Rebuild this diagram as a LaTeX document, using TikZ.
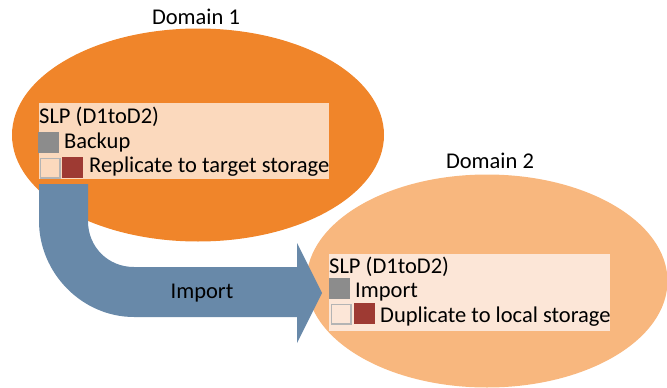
\documentclass[tikz,border=0pt]{standalone}
\usepackage{fontspec}
\setmainfont{Carlito}
\usetikzlibrary{shapes.geometric}
\definecolor{domainone}{HTML}{F0852A}
\definecolor{domaintwo}{HTML}{F8B77E}
\definecolor{slpone}{HTML}{FBD9BD}
\definecolor{slptwo}{HTML}{FCE6D7}
\definecolor{opgray}{HTML}{8C8C8C}
\definecolor{opred}{HTML}{9E3A33}
\definecolor{importblue}{HTML}{6889A9}
\definecolor{swatchline}{HTML}{B4B4B4}
\begin{document}
\begin{tikzpicture}[x=1pt,y=-1pt,font=\fontsize{22.5}{27}\selectfont,
  domainshape/.style={ellipse,inner sep=0pt},
  slpbox/.style={rectangle,inner sep=0pt,anchor=north west},
  swatch/.style={rectangle,inner sep=0pt,minimum size=21pt,anchor=north west},
  emptyswatch/.style={swatch,draw=swatchline,line width=1.6pt,minimum size=19.5pt},
  optext/.style={inner sep=0pt,anchor=west}]
\useasboundingbox (0,0) rectangle (667,388);
\clip (0,0) rectangle (667,388);
% domains
\node[domainshape,fill=domainone,minimum width=372pt,minimum height=213pt] (d1) at (198,135) {};
\node[domainshape,fill=domaintwo,minimum width=361pt,minimum height=213pt] (d2) at (487,281) {};
\node (d1label) at (196,17) {Domain 1};
\node (d2label) at (490,161) {Domain 2};
% import arrow
\fill[importblue] (39,184) -- (39,221) .. controls (39,273) and (82,317) .. (134,317)
  -- (297,317) -- (297,343) -- (322,293) -- (297,243) -- (297,267) -- (134,267)
  .. controls (108,267) and (88,247) .. (88,221) -- (88,184) -- cycle;
\node (import) at (202,293) {Import};
% SLP in domain 1
\node[slpbox,fill=slpone,minimum width=290pt,minimum height=76pt] (slp1) at (39,103) {};
\node[optext] (slp1title) at (39,117) {SLP (D1toD2)};
\node[swatch,fill=opgray] (slp1gray) at (38,132) {};
\node[optext] (slp1op1) at (64,142) {Backup};
\node[emptyswatch,fill=slpone] (slp1empty) at (39.8,157.8) {};
\node[swatch,fill=opred] (slp1red) at (62,157) {};
\node[optext] (slp1op2) at (89,167) {Replicate to target storage};
% SLP in domain 2
\node[slpbox,fill=slptwo,minimum width=281pt,minimum height=77pt] (slp2) at (329,254) {};
\node[optext] (slp2title) at (329,267) {SLP (D1toD2)};
\node[swatch,fill=opgray] (slp2gray) at (329,278) {};
\node[optext] (slp2op1) at (355,292) {Import};
\node[emptyswatch,fill=slptwo] (slp2empty) at (330.8,303.8) {};
\node[swatch,fill=opred] (slp2red) at (354,303) {};
\node[optext] (slp2op2) at (380,317) {Duplicate to local storage};
\end{tikzpicture}
\end{document}
